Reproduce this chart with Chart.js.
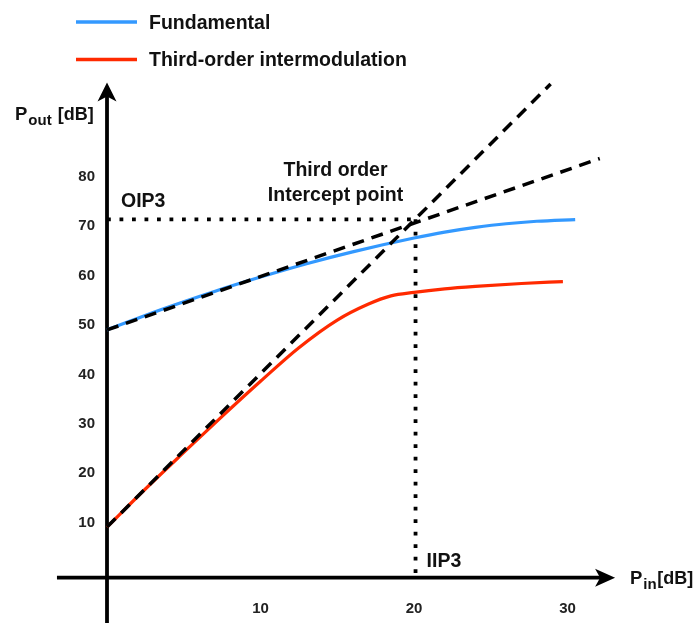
<!DOCTYPE html>
<html>
<head>
<meta charset="utf-8">
<script src="https://cdn.jsdelivr.net/npm/chart.js@4.4.1/dist/chart.umd.min.js"></script>
<style>
  html, body { margin: 0; padding: 0; background: #ffffff; }
  #wrap { width: 697px; height: 623px; position: relative; }
</style>
</head>
<body>
<div id="wrap"><canvas id="c" width="697" height="623"></canvas></div>
<script>
// Fundamental tone: input power (dB) vs output power (dB)
const fundamentalPin  = [0, 3.5, 7, 10, 13, 16, 20, 22, 24, 26, 28, 30.5];
const fundamentalPout = [49, 53.1, 56.8, 59.7, 62.4, 64.8, 67.6, 68.8, 69.75, 70.5, 71.0, 71.35];

// Third-order intermodulation product
const im3Pin  = [0, 2.5, 5, 7.5, 10, 12.5, 15, 17, 18.5, 20, 22, 24, 27, 29.7];
const im3Pout = [9.1, 16.8, 24.2, 31.5, 38.6, 45.4, 51.0, 54.2, 55.9, 56.6, 57.3, 57.8, 58.4, 58.8];

// Small-signal extrapolations (slope 1 and slope 3 asymptotes)
const fundAsymPin  = [0, 32.1];
const fundAsymPout = [49, 83.7];
const im3AsymPin   = [0, 28.9];
const im3AsymPout  = [9.1, 98.8];

// Third-order intercept point
const iip3 = 20.1;
const oip3 = 71.4;

// Axis tick labels
const xTicks = [10, 20, 30];
const yTicks = [10, 20, 30, 40, 50, 60, 70, 80];

// Where the drawn axes cross and how far they reach (data units)
const xAxisLevel = -1.15;
const xAxisStart = -3.26, xAxisEnd = 33.1;
const yAxisStart = -10.5, yAxisEnd = 99.1;

const BLUE = '#3399ff';
const RED = '#ff2a00';
const FONT = '"Liberation Sans", Arial, sans-serif';

const pts = (xs, ys) => xs.map((x, i) => ({ x: x, y: ys[i] }));

const lineBase = { pointRadius: 0, pointHoverRadius: 0, fill: false, tension: 0 };

const datasets = [
  Object.assign({}, lineBase, {
    label: 'Fundamental', data: pts(fundamentalPin, fundamentalPout),
    borderColor: BLUE, borderWidth: 3.2, cubicInterpolationMode: 'monotone', order: 1, inLegend: true
  }),
  Object.assign({}, lineBase, {
    label: 'Third-order intermodulation', data: pts(im3Pin, im3Pout),
    borderColor: RED, borderWidth: 3.2, cubicInterpolationMode: 'monotone', order: 1, inLegend: true
  }),
  Object.assign({}, lineBase, {
    label: 'fundamental asymptote', data: pts(fundAsymPin, fundAsymPout),
    borderColor: '#000', borderWidth: 3.5, borderDash: [12, 8], borderCapStyle: 'butt', order: 0
  }),
  Object.assign({}, lineBase, {
    label: 'im3 asymptote', data: pts(im3AsymPin, im3AsymPout),
    borderColor: '#000', borderWidth: 3.5, borderDash: [12, 8], borderCapStyle: 'butt', order: 0
  }),
  Object.assign({}, lineBase, {
    label: 'OIP3', data: [{ x: 0, y: oip3 }, { x: iip3, y: oip3 }],
    borderColor: '#000', borderWidth: 3.8, borderDash: [3.8, 8.7], borderCapStyle: 'butt', order: 2
  }),
  Object.assign({}, lineBase, {
    label: 'IIP3', data: [{ x: iip3, y: oip3 }, { x: iip3, y: xAxisLevel }],
    borderColor: '#000', borderWidth: 3.8, borderDash: [3.8, 8.7], borderCapStyle: 'butt', order: 2
  })
];

function arrowHead(ctx, tipX, tipY, dirX, dirY, len, half, notch) {
  const px = -dirY, py = dirX;
  const bx = tipX - dirX * len, by = tipY - dirY * len;
  ctx.beginPath();
  ctx.moveTo(tipX, tipY);
  ctx.lineTo(bx + px * half, by + py * half);
  ctx.lineTo(tipX - dirX * (len - notch), tipY - dirY * (len - notch));
  ctx.lineTo(bx - px * half, by - py * half);
  ctx.closePath();
  ctx.fill();
}

// Draws "P" + subscript + unit as one axis title
function subscriptTitle(ctx, sub, unit, x, baseline, gap) {
  ctx.font = 'bold 18.5px ' + FONT;
  ctx.fillText('P', x, baseline);
  x += ctx.measureText('P').width + 1;
  ctx.font = 'bold 15px ' + FONT;
  ctx.fillText(sub, x, baseline + 5);
  x += ctx.measureText(sub).width + gap;
  ctx.font = 'bold 18px ' + FONT;
  ctx.fillText(unit, x, baseline);
}

// Axes with arrows, tick labels, axis titles and annotations
const diagramPlugin = {
  id: 'diagram',
  beforeDatasetsDraw(chart) {
    const { ctx, scales: { x, y } } = chart;
    const x0 = x.getPixelForValue(0);
    const yLev = y.getPixelForValue(xAxisLevel);
    ctx.save();
    ctx.strokeStyle = '#000';
    ctx.fillStyle = '#000';
    ctx.lineWidth = 3.8;
    ctx.lineCap = 'butt';
    // vertical axis
    const yTip = y.getPixelForValue(yAxisEnd);
    ctx.beginPath();
    ctx.moveTo(x0, y.getPixelForValue(yAxisStart));
    ctx.lineTo(x0, yTip + 12);
    ctx.stroke();
    arrowHead(ctx, x0, yTip, 0, -1, 19, 9.5, 5);
    // horizontal axis
    const xTip = x.getPixelForValue(xAxisEnd);
    ctx.beginPath();
    ctx.moveTo(x.getPixelForValue(xAxisStart), yLev);
    ctx.lineTo(xTip - 12, yLev);
    ctx.stroke();
    arrowHead(ctx, xTip, yLev, 1, 0, 20, 9, 5);
    ctx.restore();
  },
  afterDatasetsDraw(chart) {
    const { ctx, scales: { x, y } } = chart;
    const x0 = x.getPixelForValue(0);
    const yLev = y.getPixelForValue(xAxisLevel);
    ctx.save();
    // tick labels
    ctx.fillStyle = '#222';
    ctx.font = 'bold 15px ' + FONT;
    ctx.textAlign = 'right';
    ctx.textBaseline = 'middle';
    yTicks.forEach(v => ctx.fillText(String(v), x0 - 12, y.getPixelForValue(v)));
    ctx.textAlign = 'center';
    xTicks.forEach(v => ctx.fillText(String(v), x.getPixelForValue(v), yLev + 31));

    ctx.fillStyle = '#111';
    ctx.textAlign = 'left';
    ctx.textBaseline = 'alphabetic';
    // axis titles
    subscriptTitle(ctx, 'out', '[dB]', 15, 120, 6);
    subscriptTitle(ctx, 'in', '[dB]', 630, 584, 0.5);

    // intercept annotations
    ctx.font = 'bold 19.5px ' + FONT;
    ctx.fillText('OIP3', x0 + 14, y.getPixelForValue(oip3) - 12);
    ctx.fillText('IIP3', x.getPixelForValue(iip3) + 11, yLev - 11);
    ctx.textAlign = 'center';
    const cx = x.getPixelForValue(iip3) - 80;
    const base = y.getPixelForValue(oip3) - 18;
    ctx.fillText('Third order', cx, base - 25);
    ctx.fillText('Intercept point', cx, base);

    // legend
    let ly = 22;
    chart.data.datasets.filter(d => d.inLegend).forEach(d => {
      ctx.strokeStyle = d.borderColor;
      ctx.lineWidth = 3.5;
      ctx.beginPath();
      ctx.moveTo(76, ly);
      ctx.lineTo(137, ly);
      ctx.stroke();
      ctx.fillStyle = '#111';
      ctx.textAlign = 'left';
      ctx.textBaseline = 'alphabetic';
      ctx.font = 'bold 19.5px ' + FONT;
      ctx.fillText(d.label, 149, ly + 6.5);
      ly += 37.5;
    });
    ctx.restore();
  }
};

new Chart(document.getElementById('c'), {
  type: 'line',
  data: { datasets: datasets },
  options: {
    responsive: false,
    animation: false,
    devicePixelRatio: 1,
    layout: { padding: 0 },
    plugins: { legend: { display: false }, tooltip: { enabled: false } },
    scales: {
      x: { type: 'linear', display: false, min: -6.971, max: 38.436 },
      y: { type: 'linear', display: false, min: -10.324, max: 115.79 }
    }
  },
  plugins: [diagramPlugin]
});
</script>
</body>
</html>
